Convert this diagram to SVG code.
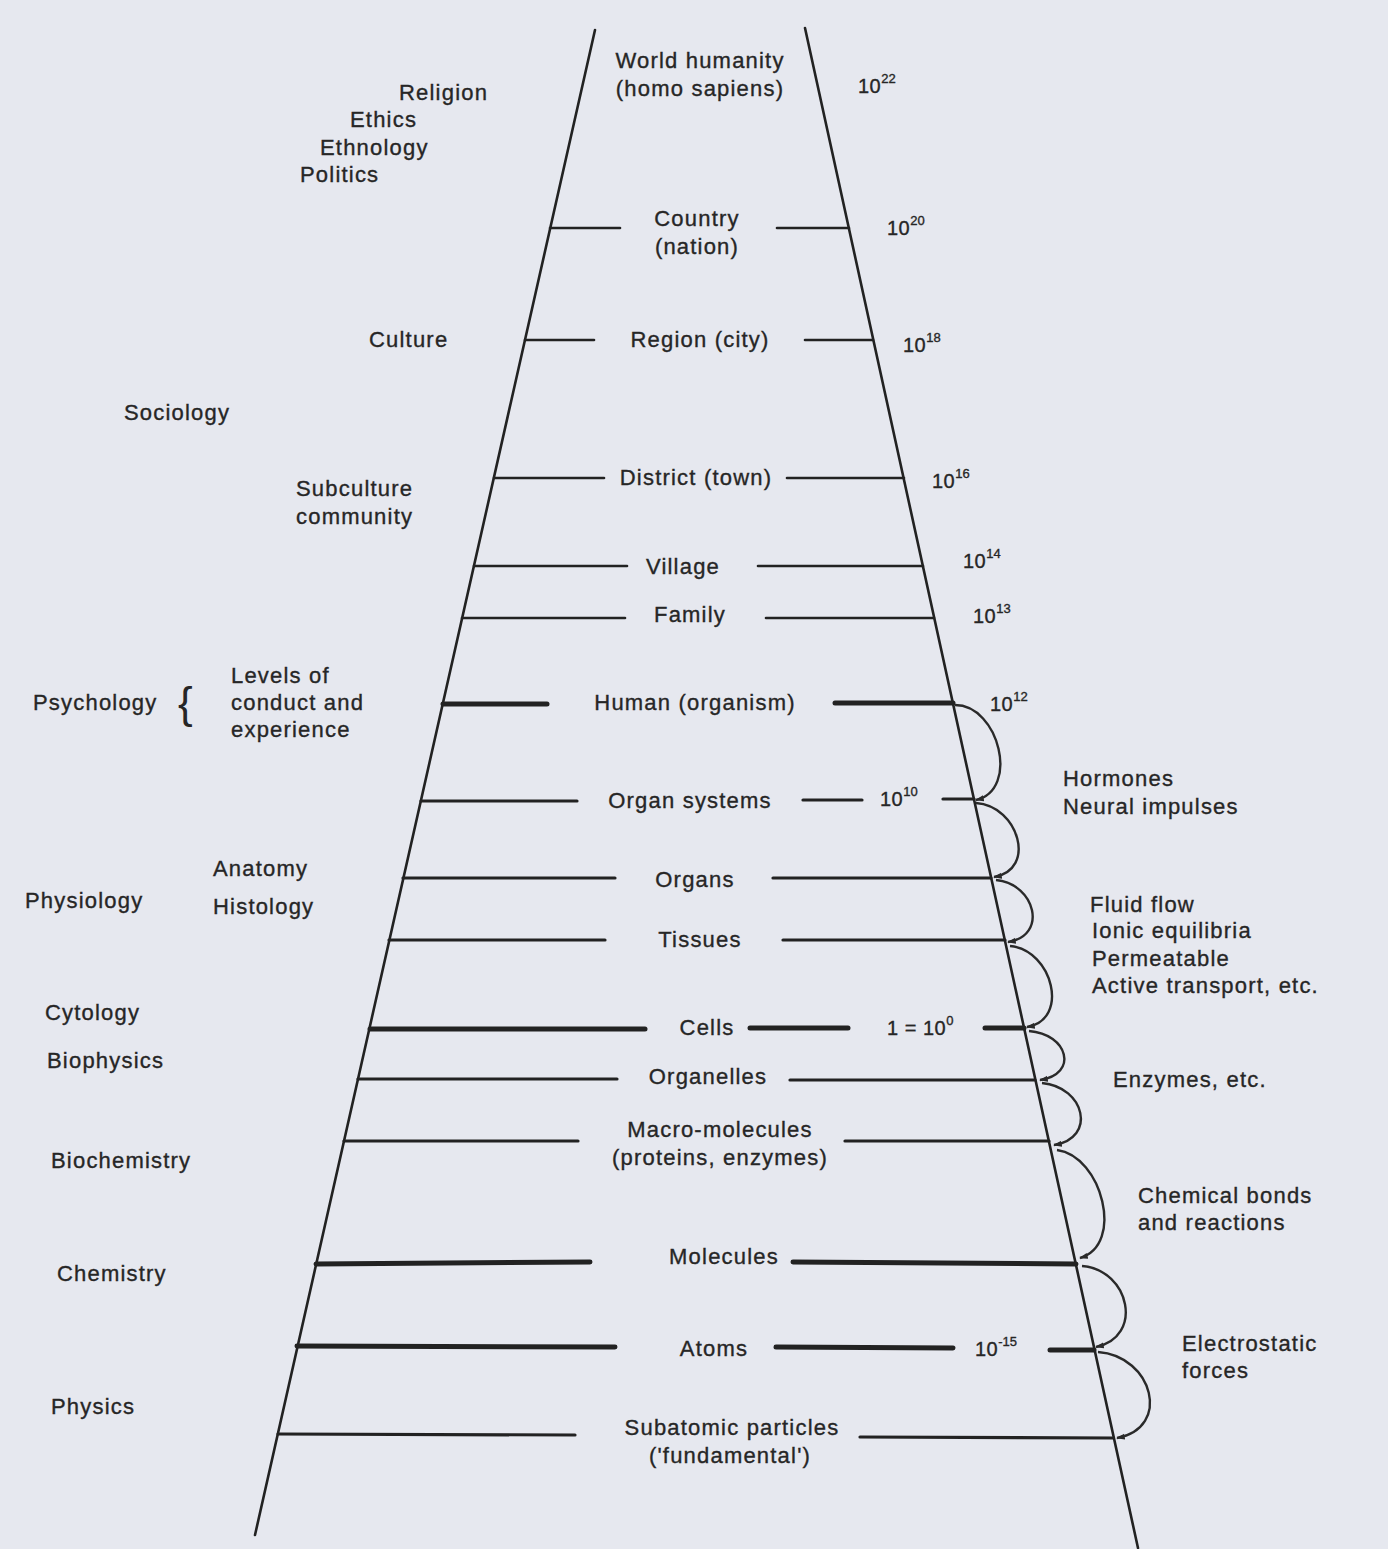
<svg xmlns="http://www.w3.org/2000/svg" width="1388" height="1549" viewBox="0 0 1388 1549">
<style>
text{font-family:"Liberation Sans",Arial,sans-serif;font-size:22px;fill:#262626;stroke:#262626;stroke-width:0.35;letter-spacing:1.2px}
.c{text-anchor:middle}
.n{font-size:20px;letter-spacing:0.5px}
.e{font-size:13px;letter-spacing:0}
.ln{stroke:#222;fill:none;stroke-linecap:round}
.t1{stroke-width:2.6}
.t2{stroke-width:3.2}
.t3{stroke-width:5}
.arc{stroke:#2a2a2a;stroke-width:2.4;fill:none;marker-end:url(#ah)}
</style>
<defs>
<marker id="ah" viewBox="0 0 10 10" refX="9" refY="5" markerWidth="3.6" markerHeight="3.6" orient="auto" markerUnits="strokeWidth">
<path d="M0,1.5 L10,5 L0,8.5 z" fill="#2a2a2a"/>
</marker>
</defs>
<rect x="0" y="0" width="1388" height="1549" fill="#e6e8ef"/>

<g id="frame">
<line class="ln t1" x1="595" y1="30" x2="255" y2="1535"/>
<line class="ln t1" x1="805" y1="28" x2="1138" y2="1548"/>
</g>

<g id="connectors">
<line class="ln t1" x1="550" y1="228" x2="620" y2="228"/>
<line class="ln t1" x1="777" y1="228" x2="849" y2="228"/>
<line class="ln t1" x1="525" y1="340" x2="594" y2="340"/>
<line class="ln t1" x1="805" y1="340" x2="873" y2="340"/>
<line class="ln t1" x1="494" y1="478" x2="604" y2="478"/>
<line class="ln t1" x1="787" y1="478" x2="904" y2="478"/>
<line class="ln t1" x1="474" y1="566" x2="627" y2="566"/>
<line class="ln t1" x1="758" y1="566" x2="923" y2="566"/>
<line class="ln t1" x1="462" y1="618" x2="625" y2="618"/>
<line class="ln t1" x1="766" y1="618" x2="934" y2="618"/>
<line class="ln t3" x1="443" y1="704" x2="547" y2="704"/>
<line class="ln t3" x1="835" y1="703" x2="953" y2="703"/>
<line class="ln t2" x1="421" y1="801" x2="577" y2="801"/>
<line class="ln t2" x1="803" y1="800" x2="862" y2="800"/>
<line class="ln t2" x1="943" y1="799" x2="974" y2="799"/>
<line class="ln t2" x1="403" y1="878" x2="615" y2="878"/>
<line class="ln t2" x1="773" y1="878" x2="991" y2="878"/>
<line class="ln t2" x1="389" y1="940" x2="605" y2="940"/>
<line class="ln t2" x1="783" y1="940" x2="1005" y2="940"/>
<line class="ln t3" x1="370" y1="1029" x2="645" y2="1029"/>
<line class="ln t3" x1="750" y1="1028" x2="848" y2="1028"/>
<line class="ln t3" x1="985" y1="1028" x2="1024" y2="1028"/>
<line class="ln t2" x1="358" y1="1079" x2="617" y2="1079"/>
<line class="ln t2" x1="790" y1="1080" x2="1035" y2="1080"/>
<line class="ln t2" x1="344" y1="1141" x2="578" y2="1141"/>
<line class="ln t2" x1="845" y1="1141" x2="1049" y2="1141"/>
<line class="ln t3" x1="316" y1="1264" x2="590" y2="1262"/>
<line class="ln t3" x1="793" y1="1262" x2="1076" y2="1264"/>
<line class="ln t3" x1="297" y1="1346" x2="615" y2="1347"/>
<line class="ln t3" x1="776" y1="1347" x2="953" y2="1348"/>
<line class="ln t3" x1="1050" y1="1350" x2="1094" y2="1350"/>
<line class="ln t2" x1="278" y1="1434" x2="575" y2="1435"/>
<line class="ln t2" x1="860" y1="1437" x2="1113" y2="1438"/>

<path class="arc" d="M955,705 C999,705 1020,790 976,800"/>
<path class="arc" d="M976,803 C1019,806 1037,870 994,877"/>
<path class="arc" d="M996,880 C1036,884 1048,936 1008,942"/>
<path class="arc" d="M1010,946 C1053,950 1070,1020 1027,1027"/>
<path class="arc" d="M1029,1031 C1068,1034 1079,1074 1040,1080"/>
<path class="arc" d="M1042,1083 C1085,1087 1097,1138 1054,1145"/>
<path class="arc" d="M1057,1150 C1102,1156 1125,1245 1080,1258"/>
<path class="arc" d="M1082,1266 C1130,1270 1144,1337 1096,1347"/>
<path class="arc" d="M1098,1352 C1153,1356 1172,1428 1117,1438"/>
</g>

<g id="n-world"><text class="c" x="700" y="68">World humanity</text><text class="c" x="700" y="96">(homo sapiens)</text><text class="n" x="858" y="93">10<tspan class="e" dy="-10">22</tspan></text></g>
<g id="n-country"><text class="c" x="697" y="226">Country</text><text class="c" x="697" y="254">(nation)</text><text class="n" x="887" y="235">10<tspan class="e" dy="-10">20</tspan></text></g>
<g id="n-region"><text class="c" x="700" y="347">Region (city)</text><text class="n" x="903" y="352">10<tspan class="e" dy="-10">18</tspan></text></g>
<g id="n-district"><text class="c" x="696" y="485">District (town)</text><text class="n" x="932" y="488">10<tspan class="e" dy="-10">16</tspan></text></g>
<g id="n-village"><text class="c" x="683" y="574">Village</text><text class="n" x="963" y="568">10<tspan class="e" dy="-10">14</tspan></text></g>
<g id="n-family"><text class="c" x="690" y="622">Family</text><text class="n" x="973" y="623">10<tspan class="e" dy="-10">13</tspan></text></g>
<g id="n-human"><text class="c" x="695" y="710">Human (organism)</text><text class="n" x="990" y="711">10<tspan class="e" dy="-10">12</tspan></text></g>
<g id="n-organsys"><text class="c" x="690" y="808">Organ systems</text><text class="n" x="880" y="806">10<tspan class="e" dy="-10">10</tspan></text></g>
<g id="n-organs"><text class="c" x="695" y="887">Organs</text></g>
<g id="n-tissues"><text class="c" x="700" y="947">Tissues</text></g>
<g id="n-cells"><text class="c" x="707" y="1035">Cells</text><text class="n" x="887" y="1035">1 = 10<tspan class="e" dy="-10">0</tspan></text></g>
<g id="n-organelles"><text class="c" x="708" y="1084">Organelles</text></g>
<g id="n-macro"><text class="c" x="720" y="1137">Macro-molecules</text><text class="c" x="720" y="1165">(proteins, enzymes)</text></g>
<g id="n-molecules"><text class="c" x="724" y="1264">Molecules</text></g>
<g id="n-atoms"><text class="c" x="714" y="1356">Atoms</text><text class="n" x="975" y="1356">10<tspan class="e" dy="-10">-15</tspan></text></g>
<g id="n-subatomic"><text class="c" x="732" y="1435">Subatomic particles</text><text class="c" x="730" y="1463">('fundamental')</text></g>

<g id="left-labels">
<text x="399" y="100">Religion</text>
<text x="350" y="127">Ethics</text>
<text x="320" y="155">Ethnology</text>
<text x="300" y="182">Politics</text>
<text x="369" y="347">Culture</text>
<text x="124" y="420">Sociology</text>
<text x="296" y="496">Subculture</text>
<text x="296" y="524">community</text>
<text x="33" y="710">Psychology</text>
<text x="178" y="718" style="font-size:44px;stroke-width:0">{</text>
<text x="231" y="683">Levels of</text>
<text x="231" y="710">conduct and</text>
<text x="231" y="737">experience</text>
<text x="213" y="876">Anatomy</text>
<text x="213" y="914">Histology</text>
<text x="25" y="908">Physiology</text>
<text x="45" y="1020">Cytology</text>
<text x="47" y="1068">Biophysics</text>
<text x="51" y="1168">Biochemistry</text>
<text x="57" y="1281">Chemistry</text>
<text x="51" y="1414">Physics</text>
</g>

<g id="right-labels">
<text x="1063" y="786">Hormones</text>
<text x="1063" y="814">Neural impulses</text>
<text x="1090" y="912">Fluid flow</text>
<text x="1092" y="938">Ionic equilibria</text>
<text x="1092" y="966">Permeatable</text>
<text x="1092" y="993">Active transport, etc.</text>
<text x="1113" y="1087">Enzymes, etc.</text>
<text x="1138" y="1203">Chemical bonds</text>
<text x="1138" y="1230">and reactions</text>
<text x="1182" y="1351">Electrostatic</text>
<text x="1182" y="1378">forces</text>
</g>
</svg>
